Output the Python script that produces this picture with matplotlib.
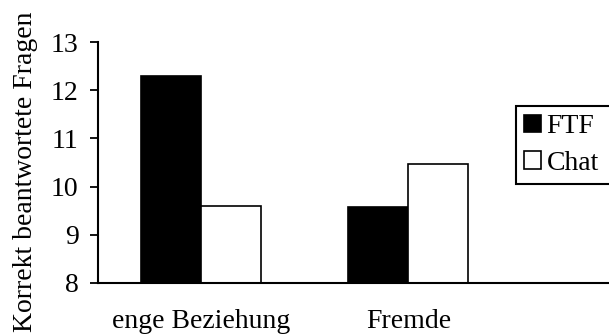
import matplotlib
matplotlib.use("Agg")
import matplotlib.pyplot as plt
import numpy as np

categories = ["enge Beziehung", "Fremde"]
series_names = ["FTF", "Chat"]
ftf_values = [12.3, 9.58]
chat_values = [9.6, 10.47]
y_ticks = [8, 9, 10, 11, 12, 13]
y_label = "Korrekt beantwortete Fragen"

plt.rcParams['font.family'] = ['Liberation Serif', 'DejaVu Serif']
FS = 20

fig = plt.figure(figsize=(6.09, 3.34), dpi=100)
ax = fig.add_axes([98/609, 1-283/334, 1-98/609, (283-42)/334])

x = np.arange(len(categories))
w = 0.29
ax.bar(x - w/2, ftf_values, w, color='black', edgecolor='black', linewidth=1.2, label=series_names[0])
ax.bar(x + w/2, chat_values, w, color='white', edgecolor='black', linewidth=1.2, label=series_names[1])

ax.set_ylim(8, 13)
ax.set_xlim(-0.5, 1.97)
ax.set_yticks(y_ticks)
ax.set_yticklabels([str(t) for t in y_ticks], fontsize=FS)
ax.set_xticks(x)
ax.set_xticklabels(categories, fontsize=FS)
ax.tick_params(axis='x', length=0, pad=19)
ax.tick_params(axis='y', direction='out', length=6, width=1.3, pad=8)
for s in ['top', 'right']:
    ax.spines[s].set_visible(False)
for s in ['left', 'bottom']:
    ax.spines[s].set_linewidth(1.5)
ax.set_ylabel(y_label, fontsize=FS)
ax.yaxis.set_label_coords(-(98-38)/(609-98), 0.5 - 9/241)

leg = fig.legend(loc='upper left', bbox_to_anchor=(516/609, 1-183/334, 0.2, 77/334),
                 mode='expand', fontsize=FS,
                 frameon=True, fancybox=False, edgecolor='black', framealpha=1,
                 handlelength=0.6, handleheight=0.6, handletextpad=0.2, borderpad=0.3,
                 labelspacing=0.42, borderaxespad=0)
leg.get_frame().set_linewidth(1.5)

fig.savefig("out.png", dpi=100)
